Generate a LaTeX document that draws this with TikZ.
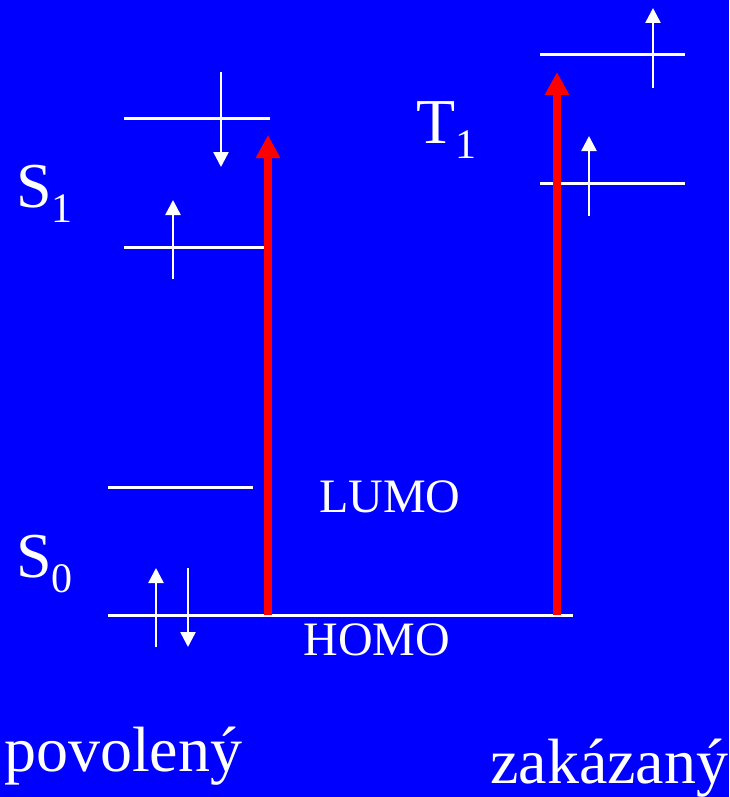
\documentclass[tikz,border=0pt]{standalone}
\usepackage{fontspec}
\setmainfont{Liberation Serif}
\usetikzlibrary{arrows.meta}
\definecolor{bgblue}{RGB}{0,0,255}
\definecolor{exred}{RGB}{255,0,0}
\tikzset{
  level/.style={white, line width=3pt},
  spin/.style={white, line width=2.5pt, -{Triangle[width=15pt,length=15pt]}},
  excite/.style={exred, line width=8pt, -{Triangle[width=23pt,length=23pt]}},
  biglabel/.style={white, inner sep=0pt, anchor=base west, font=\fontsize{64}{64}\selectfont},
  orblabel/.style={white, inner sep=0pt, anchor=base, font=\fontsize{48}{48}\selectfont}
}
\newcommand{\lowsub}[1]{\raisebox{-15pt}{\fontsize{42}{42}\selectfont #1}}
\begin{document}
\begin{tikzpicture}[x=1pt,y=-1pt]
\fill[bgblue] (0,0) rectangle (729,797);
\useasboundingbox (0,0) rectangle (729,797);
% S1 levels
\coordinate (s1a) at (124,119); \coordinate (s1b) at (270,119);
\coordinate (s1c) at (124,247); \coordinate (s1d) at (265,247);
\draw[level] (s1a) -- (s1b);
\draw[level] (s1c) -- (s1d);
\coordinate (d1s) at (221,72); \coordinate (d1e) at (221,167);
\draw[spin] (d1s) -- (d1e);
\coordinate (u1s) at (173,279); \coordinate (u1e) at (173,200);
\draw[spin] (u1s) -- (u1e);
% T1 levels
\coordinate (t1a) at (540,55); \coordinate (t1b) at (685,55);
\coordinate (t1c) at (540,183); \coordinate (t1d) at (685,183);
\draw[level] (t1a) -- (t1b);
\draw[level] (t1c) -- (t1d);
\coordinate (u2s) at (653,88); \coordinate (u2e) at (653,8);
\draw[spin] (u2s) -- (u2e);
\coordinate (u3s) at (589,216); \coordinate (u3e) at (589,136);
\draw[spin] (u3s) -- (u3e);
% S0 levels
\coordinate (la) at (108,487); \coordinate (lb) at (253,487);
\coordinate (ha) at (108,615); \coordinate (hb) at (573,615);
\draw[level] (la) -- (lb);
\draw[level] (ha) -- (hb);
\coordinate (u4s) at (156,647); \coordinate (u4e) at (156,568);
\draw[spin] (u4s) -- (u4e);
\coordinate (d4s) at (188,568); \coordinate (d4e) at (188,647);
\draw[spin] (d4s) -- (d4e);
% excitation arrows
\coordinate (r1s) at (268,615); \coordinate (r1e) at (268,135);
\coordinate (r2s) at (557,615); \coordinate (r2e) at (557,72);
\draw[excite] (r1s) -- (r1e);
\draw[excite] (r2s) -- (r2e);
% labels
\node[biglabel] (S1) at (16,207) {S\lowsub{1}};
\node[biglabel] (S0) at (16,577) {S\lowsub{0}};
\node[biglabel] (T1) at (416,143) {T\lowsub{1}};
\node[orblabel] (lumo) at (390,512) {LUMO};
\node[orblabel] (homo) at (377,655) {HOMO};
\node[biglabel] (pov) at (4,771) {povolený};
\node[biglabel] (zak) at (490,783) {zakázaný};
\end{tikzpicture}
\end{document}
